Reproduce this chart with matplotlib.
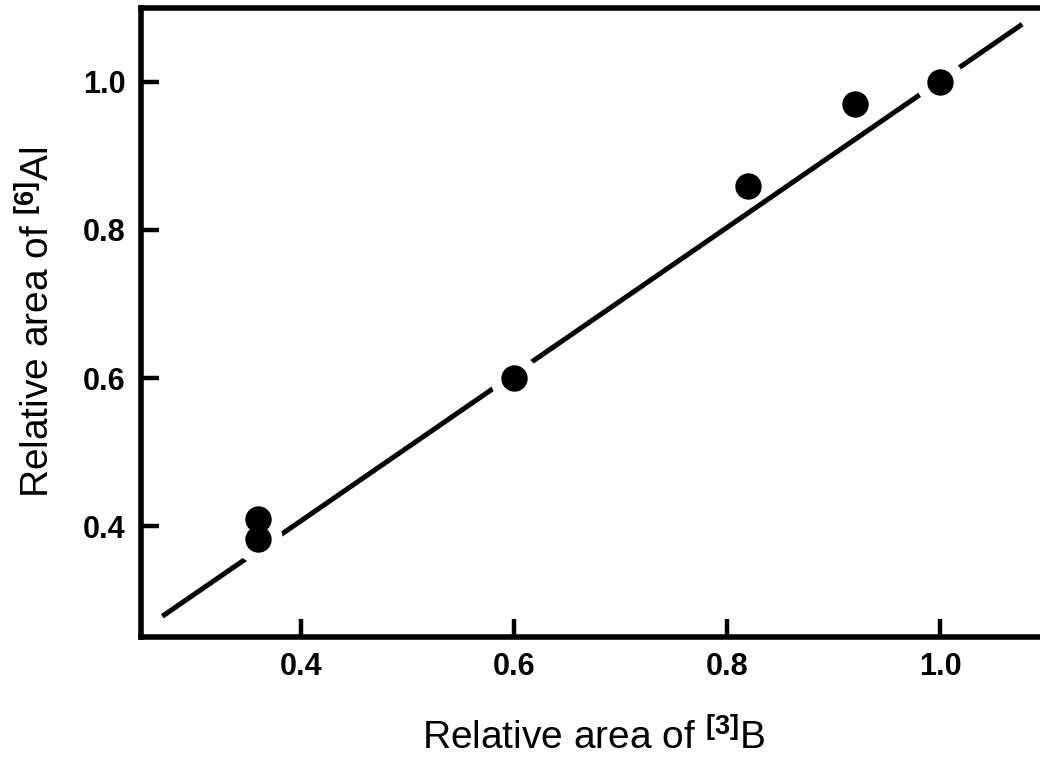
import numpy as np
import matplotlib.pyplot as plt

plt.rcParams['font.family'] = ['Liberation Sans', 'DejaVu Sans']
plt.rcParams['mathtext.fontset'] = 'custom'
plt.rcParams['mathtext.rm'] = 'Liberation Sans'
plt.rcParams['mathtext.bf'] = 'Liberation Sans:bold'
plt.rcParams['mathtext.default'] = 'regular'

# measured points
b3_area = np.array([0.36, 0.36, 0.60, 0.82, 0.92, 1.00])
al6_area = np.array([0.41, 0.383, 0.60, 0.86, 0.97, 1.00])

# fitted line end points
fit_x = [0.27, 1.077]
fit_y = [0.278, 1.078]

xticks = [0.4, 0.6, 0.8, 1.0]
yticks = [0.4, 0.6, 0.8, 1.0]

fig = plt.figure(figsize=(10.4, 7.59), dpi=100)
ax = fig.add_axes([0.1356, 0.1607, 0.8708, 0.8288])

ax.plot(fit_x, fit_y, color='black', lw=3.6, solid_capstyle='butt', zorder=1)

# line is broken only where a dot sits on it
resid = np.abs(al6_area - np.interp(b3_area, fit_x, fit_y))
on_line = resid < 0.025
ax.plot(b3_area[on_line], al6_area[on_line], 'o', ms=35, color='white', mec='none', zorder=2)
ax.plot(b3_area, al6_area, 'o', ms=19, color='black', mec='none', zorder=3)

ax.set_xlim(0.25, 1.1)
ax.set_ylim(0.25, 1.1)
ax.set_xticks(xticks)
ax.set_yticks(yticks)
ax.set_xticklabels([f'{v:.1f}' for v in xticks])
ax.set_yticklabels([f'{v:.1f}' for v in yticks])
ax.tick_params(direction='in', length=13, width=3.2, labelsize=22, pad=11)
for lab in ax.get_xticklabels() + ax.get_yticklabels():
    lab.set_fontweight('bold')
for s in ax.spines.values():
    s.set_linewidth(4)

ax.set_xlabel(r'Relative area of $^{\mathbf{[3]}}$B', fontsize=28, labelpad=26)
ax.set_ylabel(r'Relative area of $^{\mathbf{[6]}}$Al', fontsize=28, labelpad=18)

fig.savefig('out.png', dpi=100)
